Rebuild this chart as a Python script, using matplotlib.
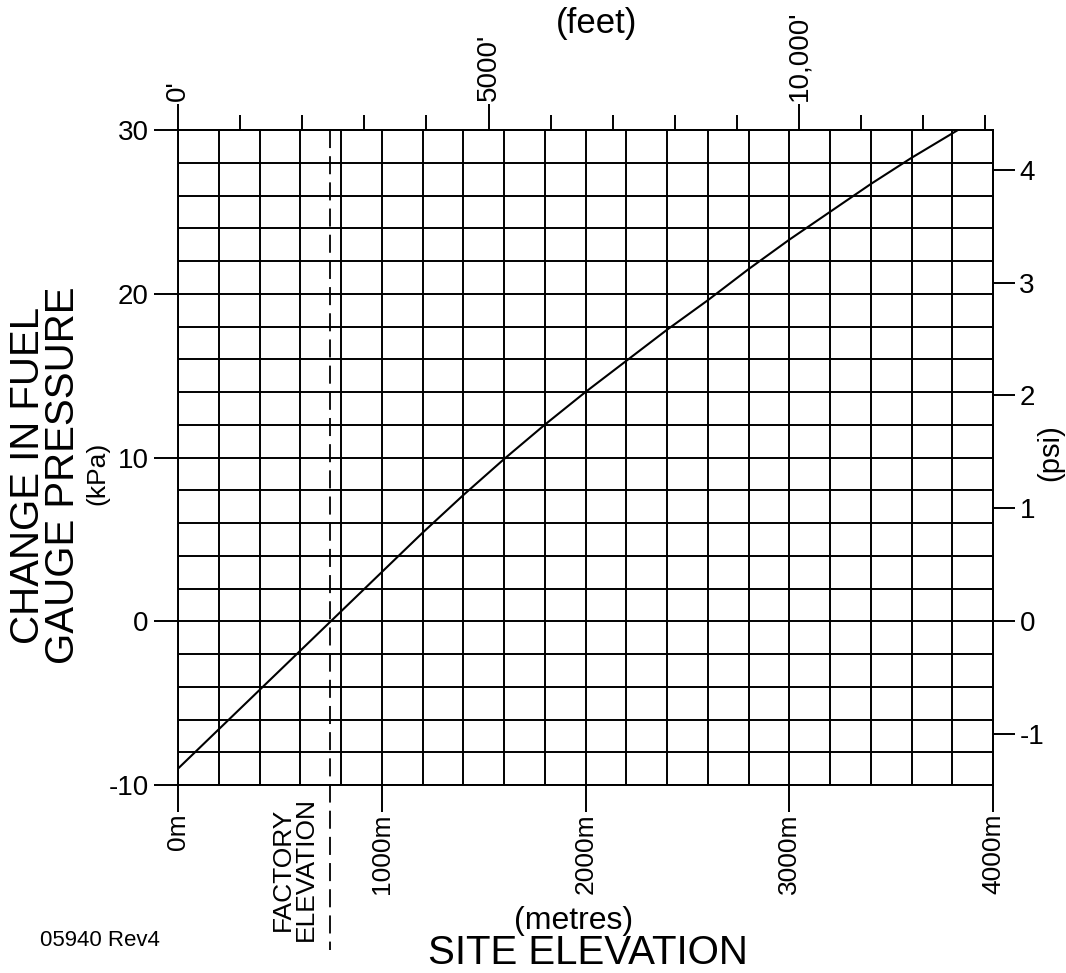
import matplotlib
matplotlib.use('Agg')
import matplotlib.pyplot as plt
import matplotlib.transforms as mtransforms

plt.rcParams['font.family'] = ['Liberation Sans', 'DejaVu Sans']
plt.rcParams['axes.unicode_minus'] = False

# ---- data ----
elevation_m = [0, 200, 400, 600, 800, 1000, 1200, 1400, 1600, 1800, 2000,
               2200, 2400, 2600, 2800, 3000, 3200, 3400, 3600, 3828]
pressure_kpa = [-9.0, -6.6, -4.2, -1.8, 0.6, 3.0, 5.4, 7.7, 9.9, 12.0, 14.0,
                15.9, 17.8, 19.6, 21.5, 23.3, 25.0, 26.7, 28.3, 30.0]
factory_elevation_m = 746

x_major_ticks = [0, 1000, 2000, 3000, 4000]
x_major_labels = ['0m', '1000m', '2000m', '3000m', '4000m']
x_grid = list(range(0, 4001, 200))
y_major_ticks = [-10, 0, 10, 20, 30]
y_major_labels = ['-10', '0', '10', '20', '30']
y_grid = list(range(-10, 31, 2))
feet_major = [0, 5000, 10000]
feet_major_labels = ["0'", "5000'", "10,000'"]
feet_minor = [1000, 2000, 3000, 4000, 6000, 7000, 8000, 9000, 11000, 12000, 13000]
psi_ticks = [-1, 0, 1, 2, 3, 4]
psi_labels = ['-1', '0', '1', '2', '3', '4']

M_PER_FT = 0.3048
KPA_PER_PSI = 6.894757

W, H = 1066, 973
fig = plt.figure(figsize=(W / 100, H / 100), dpi=100)
ax = fig.add_axes([178 / W, 1 - 785 / H, 815 / W, 655 / H])
LW = 1.4

ax.set_xlim(0, 4000)
ax.set_ylim(-10, 30)
ax.set_xticks(x_major_ticks)
ax.set_xticklabels(x_major_labels, rotation=90, fontsize=19)
ax.set_xticks(x_grid, minor=True)
ax.set_yticks(y_major_ticks)
ax.set_yticklabels(y_major_labels, fontsize=20)
ax.set_yticks(y_grid, minor=True)
ax.grid(which='both', color='black', lw=LW)
ax.tick_params(which='minor', length=0)
ax.tick_params(axis='x', which='major', length=19.5, width=LW, pad=1, direction='out')
ax.tick_params(axis='y', which='major', length=17, width=LW, pad=4, direction='out')
for s in ax.spines.values():
    s.set_linewidth(LW)

ax.plot(elevation_m, pressure_kpa, color='black', lw=1.5)

trans = mtransforms.blended_transform_factory(ax.transData, ax.transAxes)
ax.plot([factory_elevation_m, factory_elevation_m], [1.0, -0.252], transform=trans,
        clip_on=False, color='black', lw=1.3, dashes=(10, 4.5))

# top (feet)
secx = ax.secondary_xaxis('top', functions=(lambda m: m / M_PER_FT, lambda f: f * M_PER_FT))
secx.set_xticks(feet_major)
secx.set_xticklabels(feet_major_labels, rotation=90, fontsize=20)
secx.set_xticks(feet_minor, minor=True)
secx.tick_params(which='major', length=18.7, width=LW, pad=2)
secx.tick_params(which='minor', length=10.8, width=LW)
secx.spines['top'].set_linewidth(LW)

# right (psi)
secy = ax.secondary_yaxis('right', functions=(lambda k: k / KPA_PER_PSI, lambda p: p * KPA_PER_PSI))
secy.set_yticks(psi_ticks)
secy.set_yticklabels(psi_labels, fontsize=20)
secy.tick_params(length=16, width=LW, pad=3)
secy.spines['right'].set_linewidth(LW)


def ftext(x, y, s, **kw):
    fig.text(x / W, 1 - y / H, s, **kw)


ftext(28, 475, 'CHANGE IN FUEL', rotation=90, fontsize=29, ha='center', va='center')
ftext(63, 475, 'GAUGE PRESSURE', rotation=90, fontsize=29, ha='center', va='center')
ftext(97, 473, '(kPa)', rotation=90, fontsize=19, ha='center', va='center')
ftext(1050, 453, '(psi)', rotation=90, fontsize=21, ha='center', va='center')
ftext(597, 23, '(feet)', fontsize=25, ha='center', va='center')
ftext(574, 921, '(metres)', fontsize=23, ha='center', va='center')
ftext(588, 953, 'SITE ELEVATION', fontsize=29, ha='center', va='center')
ftext(40, 941, '05940 Rev4', fontsize=16, ha='left', va='center')
ftext(294, 869, 'FACTORY\nELEVATION', rotation=90, fontsize=19, ha='center', va='center',
      multialignment='center', linespacing=0.95)

fig.savefig('out.png', dpi=100, facecolor='white')
